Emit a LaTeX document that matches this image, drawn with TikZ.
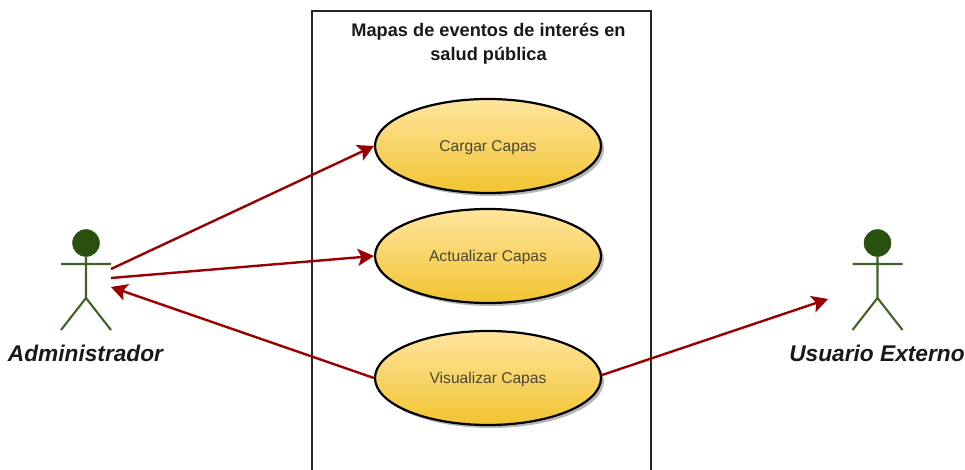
\documentclass[tikz,border=0pt]{standalone}
\usepackage{fontspec}
\setmainfont{Liberation Sans}
\usetikzlibrary{shapes.geometric,arrows.meta,shadows}
\definecolor{actorgreen}{HTML}{2A5010}
\definecolor{actorline}{HTML}{3F6228}
\definecolor{linkred}{HTML}{990000}
\definecolor{usetop}{HTML}{FFE59F}
\definecolor{usebot}{HTML}{F2C430}
\definecolor{usetext}{HTML}{4A4530}
\tikzset{
  usecase/.style={ellipse,draw=black,line width=2.2pt,minimum width=226pt,minimum height=94pt,inner sep=0pt,
    top color=usetop,bottom color=usebot,text=usetext,font=\fontsize{15.6}{18}\selectfont,text depth=0pt,
    drop shadow={shadow xshift=3pt,shadow yshift=-3pt,fill=black!35,opacity=0.8}},
  head/.style={circle,fill=actorgreen,draw=actorgreen,minimum size=27pt,inner sep=0pt},
  limb/.style={draw=actorline,line width=2.1pt},
  actorname/.style={font=\fontsize{22.7}{26}\selectfont\bfseries\itshape,text=black!90,inner sep=0pt},
  link/.style={draw=linkred,line width=2.4pt,-{Stealth[length=16pt,width=17pt,inset=3.5pt]}},
  boxline/.style={draw=black!85,line width=1.2pt},
  boxtitle/.style={font=\fontsize{18.2}{24}\selectfont\bfseries,text=black!90,align=center,inner sep=0pt}
}
\begin{document}
\begin{tikzpicture}[x=1pt,y=-1pt]
\useasboundingbox (0,0) rectangle (965,470);
\fill[white] (0,0) rectangle (965,470);
% system boundary
\draw[boxline] (312,470) -- (312,11) -- (651,11) -- (651,470);
\node[boxtitle] (title) at (488.5,44) {Mapas de eventos de interés en\\salud pública};
% use cases
\node[usecase] (cargar) at (488,146) {Cargar Capas};
\node[usecase] (actualizar) at (488,256) {Actualizar Capas};
\node[usecase] (visualizar) at (488,378) {Visualizar Capas};
% left actor
\node[head] (admhead) at (86,243) {};
\coordinate (admarml) at (61,264);
\coordinate (admarmr) at (111,264);
\coordinate (admhip) at (86,298);
\coordinate (admfootl) at (61,330);
\coordinate (admfootr) at (111,330);
\draw[limb] (admhead.south) -- (admhip) (admarml) -- (admarmr) (admfootl) -- (admhip) -- (admfootr);
\node[actorname] (admname) at (85.5,353) {Administrador};
% right actor
\node[head] (usrhead) at (877.5,243) {};
\coordinate (usrarml) at (852.5,264);
\coordinate (usrarmr) at (902.5,264);
\coordinate (usrhip) at (877.5,298);
\coordinate (usrfootl) at (852.5,330);
\coordinate (usrfootr) at (902.5,330);
\draw[limb] (usrhead.south) -- (usrhip) (usrarml) -- (usrarmr) (usrfootl) -- (usrhip) -- (usrfootr);
\node[actorname] (usrname) at (877,353) {Usuario Externo};
% free ends of connectors
\coordinate (admout1) at (111,269);
\coordinate (admout2) at (111,278);
\coordinate (admin) at (111,287);
\coordinate (usrin) at (828,299);
% connectors
\draw[link] (admout1) -- (cargar.west);
\draw[link] (admout2) -- (actualizar.west);
\draw[link] (visualizar.west) -- (admin);
\draw[link] (visualizar.east) ++(0,-3) coordinate (visout) (visout) -- (usrin);
\end{tikzpicture}
\end{document}
